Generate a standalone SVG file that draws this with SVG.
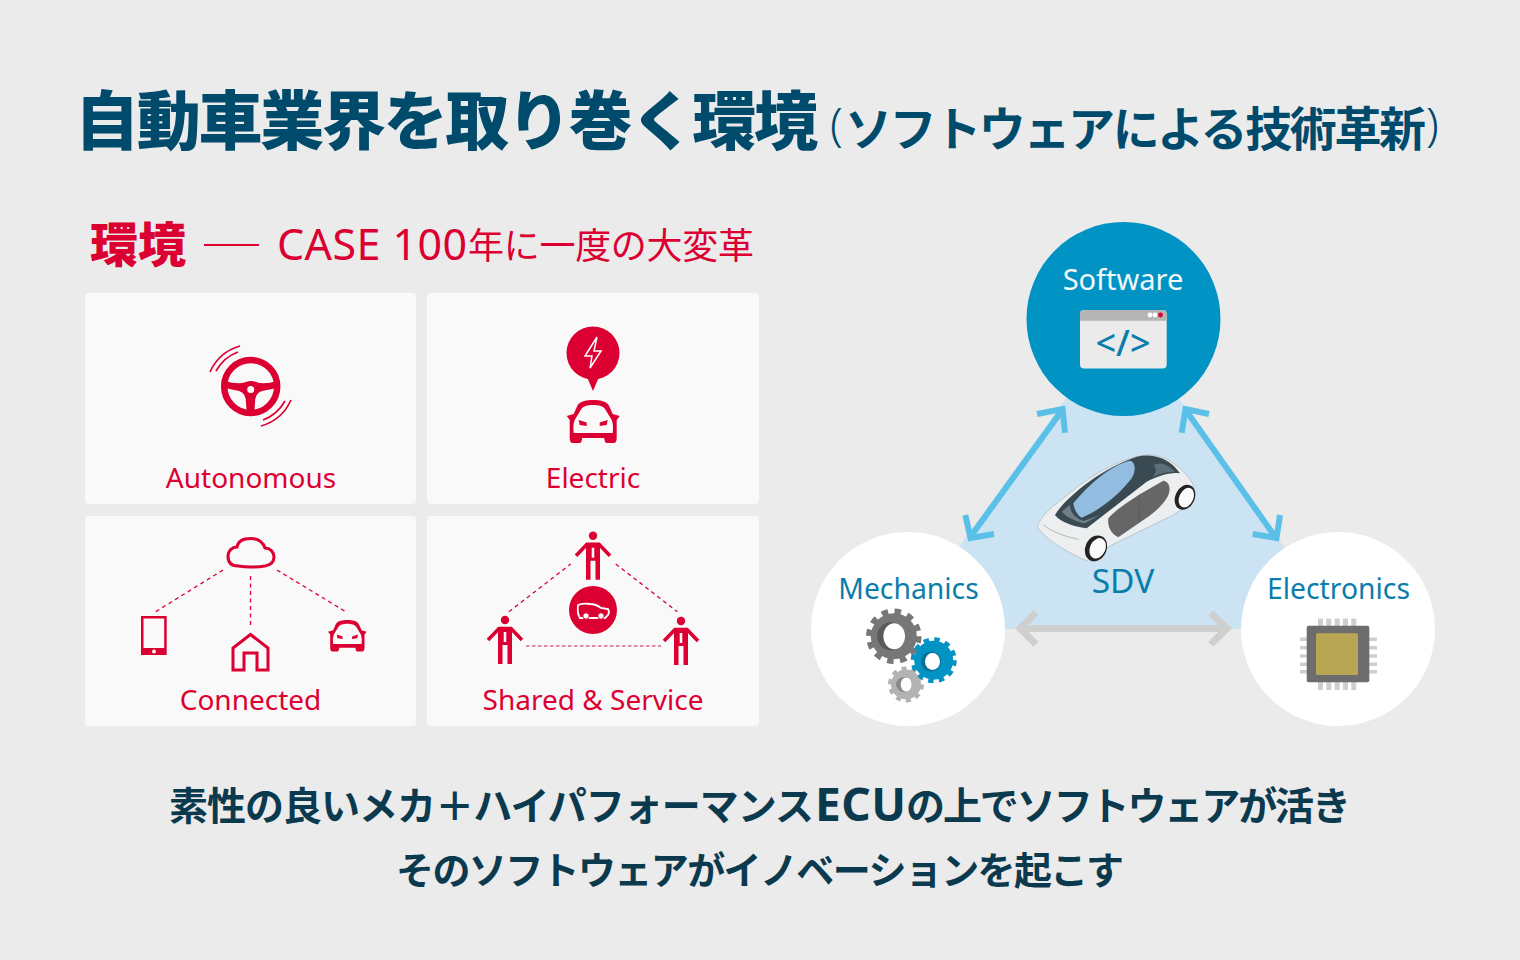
<svg xmlns="http://www.w3.org/2000/svg" xmlns:xlink="http://www.w3.org/1999/xlink" width="1520" height="960" viewBox="0 0 1520 960">
<style>
.jp{font-family:"Noto Sans CJK JP","Noto Sans",sans-serif}
.lat{font-family:"Noto Sans","Noto Sans CJK JP",sans-serif}
.card{fill:#f9f9f9}
.red{fill:#dc0032}
.lab{font-size:28px;fill:#dc0032;text-anchor:middle}
.blab{font-size:28.300px;fill:#0a7dab;text-anchor:middle}
.dash{fill:none;stroke:#dc0032;stroke-width:1.300;stroke-dasharray:4 3.500}
.ln{fill:none;stroke:#dc0032}
.ar{fill:none;stroke:#5bc0e8;stroke-width:6;stroke-linecap:butt;stroke-linejoin:miter}
.ag{fill:none;stroke:#cfcfcf;stroke-width:7}
.pin{fill:#cfcfcf}
.msg{font-weight:700;fill:#0b3a4f}
</style>
<defs>
<path id="car" fill-rule="evenodd" d="M26.500 0C20 0 14 1 11 5L7 14L0 16L3 20L3 38Q3 43 6 43L13 43Q15 43 15.500 38L37.500 38Q38 43 40 43L47 43Q50 43 50 38L50 20L53 16L46 14L42 5C39 1 33 0 26.500 0ZM26.500 5C21 5 16 6 14 10L8 20Q6 25 7 33L46 33Q47 25 45 20L39 10C37 6 32 5 26.500 5ZM12 20L20 22.500L20 26L13 25ZM41 20L33 22.500L33 26L40 25Z" class="red"/>
<g id="person">
<circle cx="0" cy="0" r="4.200" class="red"/>
<path d="M-17 20L-6 8.500L6 8.500L17 20" fill="none" stroke="#dc0032" stroke-width="3.600"/>
<path fill-rule="evenodd" class="red" d="M-7 7.500L7 7.500L7 44L2.500 44L2.500 25L-2.500 25L-2.500 44L-7 44ZM-1.300 12L-1.300 22L1.300 22L1.300 12Z"/>
</g>
</defs>
<rect width="1520" height="960" fill="#ebebeb"/>
<g id="title">
<text class="jp" x="75" y="144" font-size="64" font-weight="900" fill="#004a6c" textLength="743" lengthAdjust="spacing">自動車業界を取り巻く環境</text>
<text class="lat" x="830" y="141" font-size="46" font-weight="300" fill="#004a6c">(</text>
<text class="jp" x="845" y="146" font-size="47" font-weight="700" fill="#004a6c" textLength="581" lengthAdjust="spacing">ソフトウェアによる技術革新</text>
<text class="lat" x="1426" y="141" font-size="46" font-weight="300" fill="#004a6c">)</text>
</g>
<g id="heading">
<text class="jp" x="90" y="262" font-size="48" font-weight="900" fill="#dc0032">環境</text>
<line x1="204" y1="245" x2="259" y2="245" stroke="#dc0032" stroke-width="2"/>
<text class="lat" x="277" y="260" font-size="43" fill="#dc0032" textLength="190" lengthAdjust="spacing">CASE 100</text>
<text class="jp" x="468" y="259" font-size="36" fill="#dc0032" textLength="286" lengthAdjust="spacing">年に一度の大変革</text>
</g>
<g id="autonomous">
<rect class="card" x="85" y="293" width="331" height="211" rx="4"/>
<circle cx="250.700" cy="386.500" r="26.500" fill="none" stroke="#dc0032" stroke-width="6.500"/>
<path class="red" d="M225 381Q238 385 246 382Q251 380 256 382Q264 385 277 381L277 388L262 391Q255 393 255 403L254 416L247 416L246 403Q246 393 239 391L225 388Z"/>
<circle cx="250.700" cy="389.500" r="3.500" fill="#f9f9f9"/>
<path class="ln" stroke-width="1.700" d="M210 372Q219 352 240 346M216 371Q224 357 238 352M291 400Q282 420 261 426M285 401Q277 415 263 420"/>
<text class="lat lab" x="251" y="488">Autonomous</text>
</g>
<g id="electric">
<rect class="card" x="427" y="293" width="332" height="211" rx="4"/>
<circle class="red" cx="593" cy="353" r="26.500"/>
<path class="red" d="M587 377L593 391L599 377Z"/>
<path d="M597 337L585 356L592 356L590 368L601 351L594 351Z" fill="none" stroke="#fff" stroke-width="1.500"/>
<use xlink:href="#car" href="#car" x="566.700" y="400"/>
<text class="lat lab" x="593" y="488">Electric</text>
</g>
<g id="connected">
<rect class="card" x="85" y="516" width="331" height="210" rx="4"/>
<path class="ln" stroke-width="3" d="M238 566C230 566 228 561 228 556C228 551 232 547 237 547C238 541 244 538.500 251 538.500C258 538.500 263 542 265 548C270 548 274 552 274 557C274 563 270 565 265 566C255 567.500 247 567.500 238 566Z"/>
<path class="dash" d="M223 570L155.700 611.700M250.500 576L250.500 628M277 570L345.700 611.700"/>
<path class="red" fill-rule="evenodd" d="M141 616L166.700 616L166.700 655L141 655ZM143.500 618.500L143.500 648L164.200 648L164.200 618.500ZM154 649.500A2 2 0 1 0 154 653.500A2 2 0 1 0 154 649.500Z"/>
<path class="ln" stroke-width="3" d="M233 670L233 648L250.500 634.500L268 648L268 670L257 670L257 653L244 653L244 670Z"/>
<use xlink:href="#car" href="#car" transform="translate(328 620) scale(.73)"/>
<text class="lat lab" x="250.500" y="710">Connected</text>
</g>
<g id="shared">
<rect class="card" x="427" y="516" width="332" height="210" rx="4"/>
<use xlink:href="#person" href="#person" x="593" y="535.700"/>
<use xlink:href="#person" href="#person" x="505" y="620"/>
<use xlink:href="#person" href="#person" x="681" y="621"/>
<path class="dash" d="M509 611.700L570.700 564M615.700 564L677.300 611.700"/>
<line x1="526" y1="646" x2="661" y2="646" stroke="#d9668a" stroke-width="1.500" stroke-dasharray="3.500 2.500"/>
<circle class="red" cx="593" cy="610" r="24"/>
<path d="M578 605Q584 603 590 604Q596 604 601 608L608 609Q610 612 608 615L605 618L580 618Q577 614 578 605Z" fill="none" stroke="#fff" stroke-width="1.800"/>
<circle cx="586" cy="616" r="3.200" fill="#fff" stroke="#dc0032"/>
<circle cx="601" cy="616" r="3.200" fill="#fff" stroke="#dc0032"/>
<text class="lat lab" x="593" y="710">Shared &amp; Service</text>
</g>
<g id="triangle">
<polygon points="1123,319 900,629 1342,629" fill="#cbe3f2"/>
</g>
<g id="connectors">
<path class="ar" d="M971 536L1063 409M965.300 515L970.500 538L994 534M1037 414L1062.500 409L1065 432.700"/>
<path class="ar" d="M1185 409L1276 538M1209 414L1185.500 409L1181.700 432.700M1280 515L1276.500 538L1252.700 534"/>
<path class="ag" d="M1020 628.500L1227 628.500M1036 612.700L1020 628.500L1036 644.300M1210.700 612.700L1227 628.500L1210.700 644.300"/>
</g>
<g id="software">
<circle cx="1123.500" cy="319" r="97" fill="#0093c4"/>
<text class="lat" x="1123" y="290" font-size="29" fill="#f4f8fa" text-anchor="middle">Software</text>
<rect x="1080" y="310" width="86.700" height="58.500" rx="4" fill="#ebebeb"/>
<path d="M1080 320.700L1080 314Q1080 310 1084 310L1162.700 310Q1166.700 310 1166.700 314L1166.700 320.700Z" fill="#b5b5b5"/>
<circle cx="1150" cy="315" r="2.400" fill="#fff"/>
<circle cx="1155" cy="315" r="2.400" fill="#fff"/>
<circle cx="1160.500" cy="315" r="2.400" fill="#dc0032"/>
<text class="lat" x="1123" y="356" font-size="36" font-weight="500" fill="#0a7dab" text-anchor="middle">&lt;/&gt;</text>
</g>
<g id="sdv">
<g transform="translate(1020 440) scale(.33333)">
<path fill="#eceeef" stroke="#9aa2a6" stroke-width="1.500" d="M52 262C60 230 90 205 130 175C200 115 290 55 380 45C430 42 480 75 515 125C528 150 525 170 505 195L460 225L275 315L200 362L190 358C130 330 80 300 52 262Z"/>
<path fill="#3a4a52" d="M105 225C130 180 240 85 350 50C400 38 450 55 480 100C450 95 410 110 380 125L200 265C160 260 120 245 105 225Z"/>
<path fill="#6f7f87" d="M125 215C140 230 165 245 195 250L240 225L190 243C165 235 150 215 150 195Z"/>
<path fill="#5d6f78" d="M400 75Q430 60 465 95Q430 95 400 110Q415 90 400 75Z"/>
<path fill="#93bde0" d="M160 190C200 140 270 75 330 62C345 65 350 90 335 115C300 160 250 205 185 233C170 225 162 205 160 190Z"/>
<path fill="#666" d="M265 235C300 195 380 150 430 122C450 125 455 150 440 175C420 205 395 225 358 248L295 292C270 280 262 255 265 235Z"/>
<path fill="none" stroke="#555" stroke-width="2" d="M358 165L358 248"/>
<path fill="none" stroke="#999" stroke-width="2" d="M70 255Q110 285 175 298"/>
<ellipse cx="228" cy="325" rx="32" ry="40" transform="rotate(25 228 325)" fill="#222"/>
<ellipse cx="233" cy="325" rx="23" ry="32" transform="rotate(25 233 325)" fill="#fafafa"/>
<ellipse cx="495" cy="172" rx="29" ry="39" transform="rotate(25 495 172)" fill="#222"/>
<ellipse cx="499" cy="173" rx="21" ry="31" transform="rotate(25 499 173)" fill="#fafafa"/>
</g>
<text class="lat" x="1123" y="593" font-size="33.500" fill="#0a7dab" text-anchor="middle">SDV</text>
</g>
<g id="mechanics">
<circle cx="908" cy="629" r="97" fill="#fff"/>
<text class="lat blab" x="908.500" y="599">Mechanics</text>
<circle cx="893.800" cy="636.300" r="24.500" fill="none" stroke="#777" stroke-width="6.500" stroke-dasharray="6.400 6.430"/>
<circle cx="893.800" cy="636.300" r="23" fill="#777"/>
<ellipse cx="891" cy="636.300" rx="14" ry="14" fill="#5a5a5a"/>
<ellipse cx="894.200" cy="636.300" rx="10.800" ry="13" fill="#fff"/>
<circle cx="906" cy="684.500" r="15.500" fill="none" stroke="#b3b3b3" stroke-width="5" stroke-dasharray="4.870 4.870"/>
<circle cx="906" cy="684.500" r="15" fill="#b3b3b3"/>
<ellipse cx="904" cy="684.500" rx="8" ry="7.500" fill="#888"/>
<ellipse cx="906.200" cy="684.500" rx="5.500" ry="7" fill="#fff"/>
<circle cx="933.700" cy="660.300" r="20" fill="none" stroke="#0093c4" stroke-width="6" stroke-dasharray="5.240 5.230"/>
<circle cx="933.700" cy="660.300" r="19.500" fill="#0093c4"/>
<ellipse cx="931" cy="661.500" rx="10" ry="10" fill="#0a6f96"/>
<ellipse cx="932.500" cy="661.500" rx="7.500" ry="8.500" fill="#fff"/>
</g>
<g id="electronics">
<circle cx="1338" cy="629" r="97" fill="#fff"/>
<text class="lat blab" x="1338.500" y="599">Electronics</text>
<path class="pin" d="M1318 618.500h5v7.500h-5zM1326.300 618.500h5v7.500h-5zM1334.700 618.500h5v7.500h-5zM1343 618.500h5v7.500h-5zM1351.300 618.500h5v7.500h-5zM1318 682h5v8h-5zM1326.300 682h5v8h-5zM1334.700 682h5v8h-5zM1343 682h5v8h-5zM1351.300 682h5v8h-5zM1300 637.500h7v3.500h-7zM1300 646h7v3.500h-7zM1300 654.300h7v3.500h-7zM1300 662.500h7v3.500h-7zM1300 670h7v3.500h-7zM1369 637.500h8v3.500h-8zM1369 646h8v3.500h-8zM1369 654.300h8v3.500h-8zM1369 662.500h8v3.500h-8zM1369 670h8v3.500h-8z"/>
<rect x="1306.700" y="625.700" width="62.600" height="56.600" rx="2" fill="#6d6d6d"/>
<rect x="1316" y="633.300" width="42" height="41.700" rx="1.500" fill="#b9a654"/>
</g>
<g id="message">
<text class="jp msg" x="169" y="820" font-size="39" textLength="645" lengthAdjust="spacing">素性の良いメカ＋ハイパフォーマンス</text>
<text class="lat msg" x="815" y="821" font-size="46" textLength="91" lengthAdjust="spacing">ECU</text>
<text class="jp msg" x="906" y="820" font-size="39" textLength="445" lengthAdjust="spacing">の上でソフトウェアが活き</text>
<text class="jp msg" x="396" y="884" font-size="38" textLength="728" lengthAdjust="spacing">そのソフトウェアがイノベーションを起こす</text>
</g>
</svg>
